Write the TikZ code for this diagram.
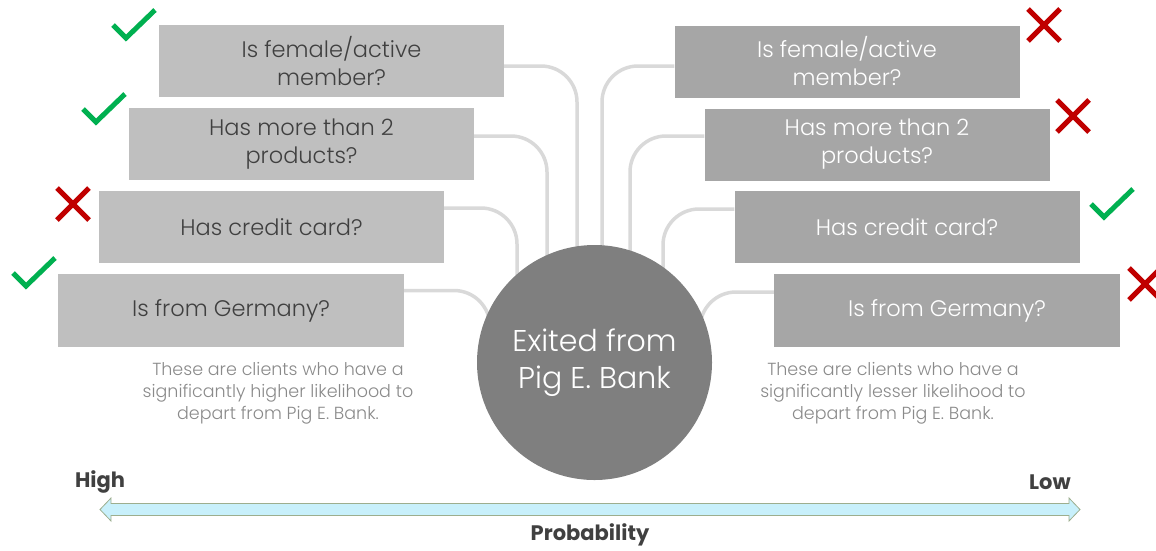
\documentclass[tikz,border=0pt]{standalone}
\usepackage{fontspec}
\setmainfont{Poppins}
\newfontfamily\lightfont{Poppins Light}
\usetikzlibrary{backgrounds}
\definecolor{boxL}{HTML}{BFBFBF}
\definecolor{boxR}{HTML}{A6A6A6}
\definecolor{circc}{HTML}{7F7F7F}
\definecolor{connc}{HTML}{D9D9D9}
\definecolor{darktxt}{HTML}{404040}
\definecolor{notetxt}{HTML}{8A8A8A}
\definecolor{okgreen}{HTML}{00B050}
\definecolor{nored}{HTML}{C00000}
\definecolor{arrfill}{HTML}{C8F0FB}
\definecolor{arrline}{HTML}{9DAE8E}
\tikzset{
  checkmark/.pic={\draw[draw=okgreen, line width=5pt] (0,15) -- (13,28) -- (42,0);},
  crossmark/.pic={\draw[draw=nored, line width=5pt] (0,0) -- (32,32) (0,32) -- (32,0);}
}
\begin{document}
\begin{tikzpicture}[x=1pt,y=-1pt,
  qbox/.style={rectangle, minimum width=345pt, minimum height=72pt, inner sep=0pt, align=center, font=\lightfont\fontsize{22.5}{28}\selectfont},
  lbox/.style={qbox, fill=boxL, text=darktxt},
  rbox/.style={qbox, fill=boxR, text=white},
  conn/.style={draw=connc, line width=3.5pt, rounded corners=36pt},
  note/.style={align=center, text=notetxt, font=\lightfont\fontsize{17.5}{22}\selectfont},
  axlbl/.style={font=\bfseries\fontsize{21}{24}\selectfont, text=darktxt}]
\useasboundingbox (0,0) rectangle (1156,550);
\clip (0,0) rectangle (1156,550);

% question boxes
\node[lbox] (L1) at (331.5,61) {Is female/active\\member?};
\node[lbox] (L2) at (301.5,144) {Has more than 2\\products?};
\node[lbox] (L3) at (271.5,227) {Has credit card?};
\node[lbox, minimum width=346pt, minimum height=73pt] (L4) at (231,310.5) {Is from Germany?};
\node[rbox] (R1) at (847,61.5) {Is female/active\\member?};
\node[rbox] (R2) at (877,144.5) {Has more than 2\\products?};
\node[rbox] (R3) at (907,227) {Has credit card?};
\node[rbox, minimum width=346pt, minimum height=73pt] (R4) at (947,310.5) {Is from Germany?};

% centre circle
\node[circle, fill=circc, minimum size=235pt, inner sep=0pt, align=center, text=white,
      font=\lightfont\fontsize{30}{37}\selectfont] (C) at (594.5,362.5) {Exited from\\Pig E. Bank};

% connectors
\begin{scope}[on background layer]
\draw[conn] ([yshift=-5pt]L1.east) -| ([xshift=-17.5pt]C.center);
\draw[conn] ([yshift=8pt]L2.east) -| ([xshift=-47.5pt]C.center);
\draw[conn] ([yshift=19pt]L3.east) -| ([xshift=-77.5pt]C.center);
\draw[conn] ([yshift=20pt]L4.east) -| ([xshift=-104.5pt]C.center);
\draw[conn] ([yshift=-4.5pt]R1.west) -| ([xshift=7.5pt]C.center);
\draw[conn] ([yshift=8.5pt]R2.west) -| ([xshift=35.5pt]C.center);
\draw[conn] ([yshift=18pt]R3.west) -| ([xshift=68.5pt]C.center);
\draw[conn] ([yshift=18.5pt]R4.west) -| ([xshift=105.5pt]C.center);
\end{scope}

% marks
\pic at (113,10) {checkmark};
\pic at (83,94) {checkmark};
\pic at (57,188) {crossmark};
\pic at (13,258) {checkmark};
\pic at (1028,9) {crossmark};
\pic at (1057,100) {crossmark};
\pic at (1091,189) {checkmark};
\pic at (1129,268) {crossmark};

% notes
\node[note] (NL) at (278,393) {These are clients who have a\\significantly higher likelihood to\\depart from Pig E. Bank.};
\node[note] (NR) at (893,393) {These are clients who have a\\significantly lesser likelihood to\\depart from Pig E. Bank.};

% probability axis
\draw[fill=arrfill, draw=arrline, line width=0.8pt, line join=miter]
  (100,509.5) -- (111,498) -- (111,503.5) -- (1069,503.5) -- (1069,498) -- (1080,509.5)
  -- (1069,521) -- (1069,515.5) -- (111,515.5) -- (111,521) -- cycle;
\node[axlbl] (HI) at (100,482) {High};
\node[axlbl] (LO) at (1050,482) {Low};
\node[axlbl] (PR) at (590,535) {Probability};
\end{tikzpicture}
\end{document}
